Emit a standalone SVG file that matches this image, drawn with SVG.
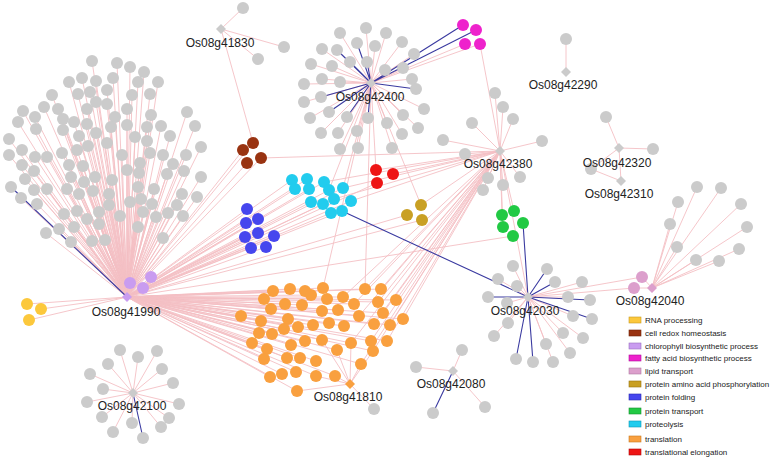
<svg xmlns="http://www.w3.org/2000/svg" width="773" height="459" viewBox="0 0 773 459">
<style>
.e{fill:none;stroke:#f4bfc4;stroke-width:0.9}
.b{fill:none;stroke:#3a3aa0;stroke-width:1.1}
.n circle{fill:#cbcbcb}
.g{fill:#cbcbcb}
.lbl{font-family:"Liberation Sans",Arial,sans-serif;font-size:12px;fill:#222;text-anchor:middle}
.lg{font-family:"Liberation Sans",Arial,sans-serif;font-size:8px;fill:#222}
.or circle{fill:#f9a03f}.cy circle{fill:#22ccee}.bl circle{fill:#4646ee}.gr circle{fill:#22c944}
.br circle{fill:#993311}.rd circle{fill:#ee1515}.gd circle{fill:#c9a024}.mg circle{fill:#ee22cc}
.pu circle{fill:#c99cf0}.ye circle{fill:#fcc83c}.pk circle{fill:#dc9fcc}
</style>
<rect width="773" height="459" fill="#fff"/>
<g id="connectors">
<path class="e" d="M127 297L92 61M127 297L117 63M127 297L130 67M127 297L144 72M127 297L158 82M127 297L69 82M127 297L82 78M127 297L96 81M127 297L113 78M127 297L138 82M127 297L52 95M127 297L78 94M127 297L90 92M127 297L107 90M127 297L132 95M127 297L150 94M127 297L44 107M127 297L58 109M127 297L96 102M127 297L107 104M127 297L127 109M127 297L23 111M127 297L35 117M127 297L63 119M127 297L87 109M127 297L115 117M127 297L151 115M127 297L187 112M127 297L18 122M127 297L36 129M127 297L63 130M127 297L74 122M127 297L87 124M127 297L111 127M127 297L127 125M127 297L147 127M127 297L161 126M127 297L195 126M127 297L9 139M127 297L79 136M127 297L96 133M127 297L135 137M127 297L147 141M127 297L170 136M127 297L107 143M127 297L88 146M127 297L201 147M127 297L22 150M127 297L9 155M127 297L35 157M127 297L47 157M127 297L62 153M127 297L77 150M127 297L122 155M127 297L150 153M127 297L163 155M127 297L186 155M127 297L22 165M127 297L34 171M127 297L69 165M127 297L83 166M127 297L127 170M127 297L140 163M127 297L139 173M127 297L173 164M127 297L167 174M127 297L184 171M127 297L25 179M127 297L71 177M127 297L95 177M127 297L112 180M127 297L138 187M127 297L154 189M127 297L201 177M127 297L34 190M127 297L47 189M127 297L67 189M127 297L84 182M127 297L93 191M127 297L109 194M127 297L79 194M127 297L141 199M127 297L130 202M127 297L152 204M127 297L182 194M127 297L197 197M127 297L21 198M127 297L37 204M127 297L109 205M127 297L77 211M127 297L99 212M127 297L120 216M127 297L143 212M127 297L156 217M127 297L168 213M127 297L177 205M127 297L183 216M127 297L64 214M127 297L87 219M127 297L74 227M127 297L99 224M127 297L138 227M127 297L59 229M127 297L163 238M127 297L46 233M127 297L71 242M127 297L92 241M127 297L105 240"/>
<path class="e" d="M127 297L130 283M127 297L151 277M127 297L143 288M127 297L27 304M127 297L41 309M127 297L29 320M127 297L243 150M127 297L253 143M127 297L261 158M127 297L247 163M127 297L247 209M127 297L258 219M127 297L246 223M127 297L258 233M127 297L245 237M127 297L274 236M127 297L251 248M127 297L266 247M127 297L292 180M127 297L307 179M127 297L295 189M127 297L309 189M127 297L324 182M127 297L329 190M127 297L343 188M127 297L311 202M127 297L323 204M127 297L334 199M127 297L351 201M127 297L331 213M127 297L342 211M127 297L377 183M127 297L407 215M127 297L422 220M127 297L513 236"/>
<path class="e" d="M127 297L273 291M127 297L290 289M127 297L305 291M127 297L311 295M127 297L323 288M127 297L264 299M127 297L285 304M127 297L302 305M127 297L327 299M127 297L343 297M127 297L354 304M127 297L365 289M127 297L381 289M127 297L378 302M127 297L396 300M127 297L271 309M127 297L322 311M127 297L338 310M127 297L359 316M127 297L383 313M127 297L403 319M127 297L241 316M127 297L261 321M127 297L288 319M127 297L298 327M127 297L313 325M127 297L329 323M127 297L344 326M127 297L374 324M127 297L390 325M127 297L259 333M127 297L272 334M127 297L284 329M127 297L305 341M127 297L322 340M127 297L351 343M127 297L371 341M127 297L387 341M127 297L252 343M127 297L267 349M127 297L291 345M127 297L337 350M127 297L373 351M127 297L264 359M127 297L287 358M127 297L300 358M127 297L316 361M127 297L361 364M127 297L270 377M127 297L282 374M127 297L296 372M127 297L316 376M127 297L335 376M127 297L297 391"/>
<path class="b" d="M127 297L11 187"/>
<path class="e" d="M500 151L495 93M500 151L503 107M500 151L513 119M500 151L472 123M500 151L443 140M500 151L465 154M500 151L542 141M500 151L488 178M500 151L483 190M500 151L503 185M500 151L520 177M500 151L480 44M500 151L261 158M500 151L343 188M500 151L351 201M500 151L324 182M500 151L334 199M500 151L393 174M500 151L376 170M500 151L502 215M500 151L514 211M500 151L503 227M500 151L421 205M500 151L528 297M500 151L365 289M500 151L381 289M500 151L378 302M500 151L396 300M500 151L383 313M500 151L403 319M500 151L374 324M500 151L390 325M500 151L371 341M500 151L387 341M500 151L373 351M500 151L359 316M500 151L354 304M500 151L343 297M500 151L361 364M500 151L351 343"/>
<path class="e" d="M371 83L366 28M371 83L340 33M371 83L386 33M371 83L375 46M371 83L402 42M371 83L322 49M371 83L414 54M371 83L311 64M371 83L332 66M371 83L385 70M371 83L403 68M371 83L412 79M371 83L304 84M371 83L322 79M371 83L340 82M371 83L304 102M371 83L424 109M371 83L310 118M371 83L387 123M371 83L403 115M371 83L418 128M371 83L321 133M371 83L338 133M371 83L357 131M371 83L402 134M371 83L340 149M371 83L358 148M371 83L392 148M371 83L465 44M371 83L480 44M371 83L329 190M371 83L343 188M371 83L421 205M371 83L365 289M371 83L323 288M371 83L376 170"/>
<path class="b" d="M371 83L337 50M371 83L357 43M371 83L350 62M371 83L367 62M371 83L416 89M371 83L321 97M371 83L329 112M371 83L347 117M371 83L368 118M371 83L463 25M371 83L476 30"/>
<path class="e" d="M528 297L513 266M528 297L498 279M528 297L517 286M528 297L507 303M528 297L582 282M528 297L568 297M528 297L573 316M528 297L508 323M528 297L494 336M528 297L563 333M528 297L583 338M528 297L546 344M528 297L570 353M528 297L553 362M528 297L634 288M528 297L642 277"/>
<path class="b" d="M528 297L488 297M528 297L547 269M528 297L555 282M528 297L590 300M528 297L592 319M528 297L516 359M528 297L533 362M528 297L342 211M528 297L523 223"/>
<path class="e" d="M652 288L697 187M652 288L721 188M652 288L678 202M652 288L741 204M652 288L670 224M652 288L747 227M652 288L677 247M652 288L739 249M652 288L696 260M652 288L719 261M652 288L642 277M652 288L634 288"/>
<path class="e" d="M350 384L335 376M350 384L316 376M350 384L361 364M350 384L337 350M350 384L351 343M350 384L322 340M350 384L297 391M350 384L373 351M350 384L374 409"/>
<path class="e" d="M133 393L120 350M133 393L157 351M133 393L138 357M133 393L108 364M133 393L162 369M133 393L90 374M133 393L173 383M133 393L103 389M133 393L87 402M133 393L179 404M133 393L102 417M133 393L169 418M133 393L132 423M133 393L161 427M133 393L113 432"/>
<path class="b" d="M133 393L143 438M453 371L433 413"/>
<path class="e" d="M453 371L416 367M453 371L462 350M453 371L485 407M221 29L243 8M221 29L284 47M221 29L258 59M221 29L253 143M566 72L566 39M619 148L606 117M619 148L653 149M619 148L591 169M619 148L621 181M621 181L591 169"/>
</g>
<g id="fan-Os08g41990" class="n">
<circle cx="92" cy="61" r="6"/><circle cx="117" cy="63" r="6"/><circle cx="130" cy="67" r="6"/><circle cx="144" cy="72" r="6"/><circle cx="158" cy="82" r="6"/><circle cx="69" cy="82" r="6"/><circle cx="82" cy="78" r="6"/><circle cx="96" cy="81" r="6"/><circle cx="113" cy="78" r="6"/><circle cx="138" cy="82" r="6"/><circle cx="52" cy="95" r="6"/><circle cx="78" cy="94" r="6"/><circle cx="90" cy="92" r="6"/><circle cx="107" cy="90" r="6"/><circle cx="132" cy="95" r="6"/><circle cx="150" cy="94" r="6"/><circle cx="44" cy="107" r="6"/><circle cx="58" cy="109" r="6"/><circle cx="96" cy="102" r="6"/><circle cx="107" cy="104" r="6"/><circle cx="127" cy="109" r="6"/><circle cx="23" cy="111" r="6"/><circle cx="35" cy="117" r="6"/><circle cx="63" cy="119" r="6"/><circle cx="87" cy="109" r="6"/><circle cx="115" cy="117" r="6"/><circle cx="151" cy="115" r="6"/><circle cx="187" cy="112" r="6"/><circle cx="18" cy="122" r="6"/><circle cx="36" cy="129" r="6"/><circle cx="63" cy="130" r="6"/><circle cx="74" cy="122" r="6"/><circle cx="87" cy="124" r="6"/><circle cx="111" cy="127" r="6"/><circle cx="127" cy="125" r="6"/><circle cx="147" cy="127" r="6"/><circle cx="161" cy="126" r="6"/><circle cx="195" cy="126" r="6"/><circle cx="9" cy="139" r="6"/><circle cx="79" cy="136" r="6"/><circle cx="96" cy="133" r="6"/><circle cx="135" cy="137" r="6"/><circle cx="147" cy="141" r="6"/><circle cx="170" cy="136" r="6"/><circle cx="107" cy="143" r="6"/><circle cx="88" cy="146" r="6"/><circle cx="201" cy="147" r="6"/><circle cx="22" cy="150" r="6"/><circle cx="9" cy="155" r="6"/><circle cx="35" cy="157" r="6"/><circle cx="47" cy="157" r="6"/><circle cx="62" cy="153" r="6"/><circle cx="77" cy="150" r="6"/><circle cx="122" cy="155" r="6"/><circle cx="150" cy="153" r="6"/><circle cx="163" cy="155" r="6"/><circle cx="186" cy="155" r="6"/><circle cx="22" cy="165" r="6"/><circle cx="34" cy="171" r="6"/><circle cx="69" cy="165" r="6"/><circle cx="83" cy="166" r="6"/><circle cx="127" cy="170" r="6"/><circle cx="140" cy="163" r="6"/><circle cx="139" cy="173" r="6"/><circle cx="173" cy="164" r="6"/><circle cx="167" cy="174" r="6"/><circle cx="184" cy="171" r="6"/><circle cx="25" cy="179" r="6"/><circle cx="71" cy="177" r="6"/><circle cx="95" cy="177" r="6"/><circle cx="112" cy="180" r="6"/><circle cx="138" cy="187" r="6"/><circle cx="154" cy="189" r="6"/><circle cx="201" cy="177" r="6"/><circle cx="11" cy="187" r="6"/><circle cx="34" cy="190" r="6"/><circle cx="47" cy="189" r="6"/><circle cx="67" cy="189" r="6"/><circle cx="84" cy="182" r="6"/><circle cx="93" cy="191" r="6"/><circle cx="109" cy="194" r="6"/><circle cx="79" cy="194" r="6"/><circle cx="141" cy="199" r="6"/><circle cx="130" cy="202" r="6"/><circle cx="152" cy="204" r="6"/><circle cx="182" cy="194" r="6"/><circle cx="197" cy="197" r="6"/><circle cx="21" cy="198" r="6"/><circle cx="37" cy="204" r="6"/><circle cx="109" cy="205" r="6"/><circle cx="77" cy="211" r="6"/><circle cx="99" cy="212" r="6"/><circle cx="120" cy="216" r="6"/><circle cx="143" cy="212" r="6"/><circle cx="156" cy="217" r="6"/><circle cx="168" cy="213" r="6"/><circle cx="177" cy="205" r="6"/><circle cx="183" cy="216" r="6"/><circle cx="64" cy="214" r="6"/><circle cx="87" cy="219" r="6"/><circle cx="74" cy="227" r="6"/><circle cx="99" cy="224" r="6"/><circle cx="138" cy="227" r="6"/><circle cx="59" cy="229" r="6"/><circle cx="163" cy="238" r="6"/><circle cx="46" cy="233" r="6"/><circle cx="71" cy="242" r="6"/><circle cx="92" cy="241" r="6"/><circle cx="105" cy="240" r="6"/>
</g>
<g id="grey-Os08g42400" class="n">
<circle cx="366" cy="28" r="6"/><circle cx="340" cy="33" r="6"/><circle cx="386" cy="33" r="6"/><circle cx="357" cy="43" r="6"/><circle cx="375" cy="46" r="6"/><circle cx="402" cy="42" r="6"/><circle cx="322" cy="49" r="6"/><circle cx="337" cy="50" r="6"/><circle cx="414" cy="54" r="6"/><circle cx="311" cy="64" r="6"/><circle cx="332" cy="66" r="6"/><circle cx="350" cy="62" r="6"/><circle cx="367" cy="62" r="6"/><circle cx="385" cy="70" r="6"/><circle cx="403" cy="68" r="6"/><circle cx="412" cy="79" r="6"/><circle cx="304" cy="84" r="6"/><circle cx="322" cy="79" r="6"/><circle cx="340" cy="82" r="6"/><circle cx="416" cy="89" r="6"/><circle cx="304" cy="102" r="6"/><circle cx="321" cy="97" r="6"/><circle cx="424" cy="109" r="6"/><circle cx="310" cy="118" r="6"/><circle cx="329" cy="112" r="6"/><circle cx="347" cy="117" r="6"/><circle cx="368" cy="118" r="6"/><circle cx="387" cy="123" r="6"/><circle cx="403" cy="115" r="6"/><circle cx="418" cy="128" r="6"/><circle cx="321" cy="133" r="6"/><circle cx="338" cy="133" r="6"/><circle cx="357" cy="131" r="6"/><circle cx="402" cy="134" r="6"/><circle cx="340" cy="149" r="6"/><circle cx="358" cy="148" r="6"/><circle cx="392" cy="148" r="6"/>
</g>
<g id="grey-Os08g42380" class="n">
<circle cx="495" cy="93" r="6"/><circle cx="503" cy="107" r="6"/><circle cx="513" cy="119" r="6"/><circle cx="472" cy="123" r="6"/><circle cx="443" cy="140" r="6"/><circle cx="465" cy="154" r="6"/><circle cx="542" cy="141" r="6"/><circle cx="488" cy="178" r="6"/><circle cx="483" cy="190" r="6"/><circle cx="503" cy="185" r="6"/><circle cx="520" cy="177" r="6"/>
</g>
<g id="grey-Os08g42030" class="n">
<circle cx="513" cy="266" r="6"/><circle cx="498" cy="279" r="6"/><circle cx="517" cy="286" r="6"/><circle cx="488" cy="297" r="6"/><circle cx="507" cy="303" r="6"/><circle cx="547" cy="269" r="6"/><circle cx="555" cy="282" r="6"/><circle cx="582" cy="282" r="6"/><circle cx="568" cy="297" r="6"/><circle cx="590" cy="300" r="6"/><circle cx="573" cy="316" r="6"/><circle cx="592" cy="319" r="6"/><circle cx="508" cy="323" r="6"/><circle cx="494" cy="336" r="6"/><circle cx="563" cy="333" r="6"/><circle cx="583" cy="338" r="6"/><circle cx="546" cy="344" r="6"/><circle cx="570" cy="353" r="6"/><circle cx="516" cy="359" r="6"/><circle cx="533" cy="362" r="6"/><circle cx="553" cy="362" r="6"/>
</g>
<g id="grey-Os08g42040" class="n">
<circle cx="697" cy="187" r="6"/><circle cx="721" cy="188" r="6"/><circle cx="678" cy="202" r="6"/><circle cx="741" cy="204" r="6"/><circle cx="670" cy="224" r="6"/><circle cx="747" cy="227" r="6"/><circle cx="677" cy="247" r="6"/><circle cx="739" cy="249" r="6"/><circle cx="696" cy="260" r="6"/><circle cx="719" cy="261" r="6"/>
</g>
<g id="grey-Os08g42100" class="n">
<circle cx="120" cy="350" r="6"/><circle cx="157" cy="351" r="6"/><circle cx="138" cy="357" r="6"/><circle cx="108" cy="364" r="6"/><circle cx="162" cy="369" r="6"/><circle cx="90" cy="374" r="6"/><circle cx="173" cy="383" r="6"/><circle cx="103" cy="389" r="6"/><circle cx="87" cy="402" r="6"/><circle cx="179" cy="404" r="6"/><circle cx="102" cy="417" r="6"/><circle cx="169" cy="418" r="6"/><circle cx="132" cy="423" r="6"/><circle cx="161" cy="427" r="6"/><circle cx="113" cy="432" r="6"/><circle cx="143" cy="438" r="6"/>
</g>
<g id="grey-small" class="n">
<circle cx="416" cy="367" r="6"/><circle cx="462" cy="350" r="6"/><circle cx="433" cy="413" r="6"/><circle cx="485" cy="407" r="6"/><circle cx="374" cy="409" r="6"/>
<circle cx="243" cy="8" r="6"/><circle cx="284" cy="47" r="6"/><circle cx="258" cy="59" r="6"/>
<circle cx="566" cy="39" r="6"/><circle cx="606" cy="117" r="6"/><circle cx="653" cy="149" r="6"/><circle cx="591" cy="169" r="6"/>
</g>
<g id="translation" class="or">
<circle cx="273" cy="291" r="6"/><circle cx="290" cy="289" r="6"/><circle cx="305" cy="291" r="6"/><circle cx="311" cy="295" r="6"/><circle cx="323" cy="288" r="6"/><circle cx="264" cy="299" r="6"/><circle cx="285" cy="304" r="6"/><circle cx="302" cy="305" r="6"/><circle cx="327" cy="299" r="6"/><circle cx="343" cy="297" r="6"/><circle cx="354" cy="304" r="6"/><circle cx="365" cy="289" r="6"/><circle cx="381" cy="289" r="6"/><circle cx="378" cy="302" r="6"/><circle cx="396" cy="300" r="6"/><circle cx="271" cy="309" r="6"/><circle cx="322" cy="311" r="6"/><circle cx="338" cy="310" r="6"/><circle cx="359" cy="316" r="6"/><circle cx="383" cy="313" r="6"/><circle cx="403" cy="319" r="6"/><circle cx="241" cy="316" r="6"/><circle cx="261" cy="321" r="6"/><circle cx="288" cy="319" r="6"/><circle cx="298" cy="327" r="6"/><circle cx="313" cy="325" r="6"/><circle cx="329" cy="323" r="6"/><circle cx="344" cy="326" r="6"/><circle cx="374" cy="324" r="6"/><circle cx="390" cy="325" r="6"/><circle cx="259" cy="333" r="6"/><circle cx="272" cy="334" r="6"/><circle cx="284" cy="329" r="6"/><circle cx="305" cy="341" r="6"/><circle cx="322" cy="340" r="6"/><circle cx="351" cy="343" r="6"/><circle cx="371" cy="341" r="6"/><circle cx="387" cy="341" r="6"/><circle cx="252" cy="343" r="6"/><circle cx="267" cy="349" r="6"/><circle cx="291" cy="345" r="6"/><circle cx="337" cy="350" r="6"/><circle cx="373" cy="351" r="6"/><circle cx="264" cy="359" r="6"/><circle cx="287" cy="358" r="6"/><circle cx="300" cy="358" r="6"/><circle cx="316" cy="361" r="6"/><circle cx="361" cy="364" r="6"/><circle cx="270" cy="377" r="6"/><circle cx="282" cy="374" r="6"/><circle cx="296" cy="372" r="6"/><circle cx="316" cy="376" r="6"/><circle cx="335" cy="376" r="6"/><circle cx="297" cy="391" r="6"/>
</g>
<g id="proteolysis" class="cy">
<circle cx="292" cy="180" r="6"/><circle cx="307" cy="179" r="6"/><circle cx="295" cy="189" r="6"/><circle cx="309" cy="189" r="6"/><circle cx="324" cy="182" r="6"/><circle cx="329" cy="190" r="6"/><circle cx="343" cy="188" r="6"/><circle cx="311" cy="202" r="6"/><circle cx="323" cy="204" r="6"/><circle cx="334" cy="199" r="6"/><circle cx="351" cy="201" r="6"/><circle cx="331" cy="213" r="6"/><circle cx="342" cy="211" r="6"/>
</g>
<g id="protein-folding" class="bl">
<circle cx="247" cy="209" r="6"/><circle cx="258" cy="219" r="6"/><circle cx="246" cy="223" r="6"/><circle cx="258" cy="233" r="6"/><circle cx="245" cy="237" r="6"/><circle cx="274" cy="236" r="6"/><circle cx="251" cy="248" r="6"/><circle cx="266" cy="247" r="6"/>
</g>
<g id="cell-redox" class="br">
<circle cx="243" cy="150" r="6"/><circle cx="253" cy="143" r="6"/><circle cx="261" cy="158" r="6"/><circle cx="247" cy="163" r="6"/>
</g>
<g id="translational-elongation" class="rd">
<circle cx="376" cy="170" r="6"/><circle cx="393" cy="174" r="6"/><circle cx="377" cy="183" r="6"/>
</g>
<g id="phosphorylation" class="gd">
<circle cx="421" cy="205" r="6"/><circle cx="407" cy="215" r="6"/><circle cx="422" cy="220" r="6"/>
</g>
<g id="protein-transport" class="gr">
<circle cx="502" cy="215" r="6"/><circle cx="514" cy="211" r="6"/><circle cx="503" cy="227" r="6"/><circle cx="523" cy="223" r="6"/><circle cx="513" cy="236" r="6"/>
</g>
<g id="fatty-acid" class="mg">
<circle cx="463" cy="25" r="6"/><circle cx="476" cy="30" r="6"/><circle cx="465" cy="44" r="6"/><circle cx="480" cy="44" r="6"/>
</g>
<g id="chlorophyll" class="pu">
<circle cx="130" cy="283" r="6"/><circle cx="151" cy="277" r="6"/><circle cx="143" cy="288" r="6"/>
</g>
<g id="rna-processing" class="ye">
<circle cx="27" cy="304" r="6"/><circle cx="41" cy="309" r="6"/><circle cx="29" cy="320" r="6"/>
</g>
<g id="lipid-transport" class="pk">
<circle cx="642" cy="277" r="6"/><circle cx="634" cy="288" r="6"/>
</g>
<g id="Os08g41990"><path d="M122 297L127 292L132 297L127 302Z" fill="#c99cf0"/><text class="lbl" x="126" y="316">Os08g41990</text></g>
<g id="Os08g41810"><path d="M345 384L350 379L355 384L350 389Z" fill="#f9a03f"/><text class="lbl" x="348" y="401">Os08g41810</text></g>
<g id="Os08g42040"><path d="M647 288L652 283L657 288L652 293Z" fill="#dc9fcc"/><text class="lbl" x="650" y="305">Os08g42040</text></g>
<g id="Os08g42400"><path d="M366 83L371 78L376 83L371 88Z" class="g"/><text class="lbl" x="370" y="101">Os08g42400</text></g>
<g id="Os08g42380"><path d="M495 151L500 146L505 151L500 156Z" class="g"/><text class="lbl" x="498" y="168">Os08g42380</text></g>
<g id="Os08g42030"><path d="M523 297L528 292L533 297L528 302Z" class="g"/><text class="lbl" x="525" y="315">Os08g42030</text></g>
<g id="Os08g42080"><path d="M448 371L453 366L458 371L453 376Z" class="g"/><text class="lbl" x="451" y="388">Os08g42080</text></g>
<g id="Os08g42100"><path d="M128 393L133 388L138 393L133 398Z" class="g"/><text class="lbl" x="132" y="410">Os08g42100</text></g>
<g id="Os08g41830"><path d="M216 29L221 24L226 29L221 34Z" class="g"/><text class="lbl" x="220" y="47">Os08g41830</text></g>
<g id="Os08g42290"><path d="M561 72L566 67L571 72L566 77Z" class="g"/><text class="lbl" x="563" y="89">Os08g42290</text></g>
<g id="Os08g42320"><path d="M614 148L619 143L624 148L619 153Z" class="g"/><text class="lbl" x="617" y="167">Os08g42320</text></g>
<g id="Os08g42310"><path d="M616 181L621 176L626 181L621 186Z" class="g"/><text class="lbl" x="619" y="198">Os08g42310</text></g>
<g id="legend">
<rect x="629" y="317" width="12" height="6" fill="#fcc83c" stroke="#c89a20" stroke-width="0.6"/><text class="lg" x="645" y="323">RNA processing</text>
<rect x="629" y="330" width="12" height="6" fill="#993311" stroke="#6e2208" stroke-width="0.6"/><text class="lg" x="645" y="336">cell redox homeostasis</text>
<rect x="629" y="343" width="12" height="6" fill="#c99cf0" stroke="#9a70c0" stroke-width="0.6"/><text class="lg" x="645" y="349">chlorophyll biosynthetic process</text>
<rect x="629" y="355" width="12" height="6" fill="#ee22cc" stroke="#b0109a" stroke-width="0.6"/><text class="lg" x="645" y="361">fatty acid biosynthetic process</text>
<rect x="629" y="368" width="12" height="6" fill="#dc9fcc" stroke="#b07aa0" stroke-width="0.6"/><text class="lg" x="645" y="374">lipid transport</text>
<rect x="629" y="381" width="12" height="6" fill="#c9a024" stroke="#967410" stroke-width="0.6"/><text class="lg" x="645" y="387">protein amino acid phosphorylation</text>
<rect x="629" y="394" width="12" height="6" fill="#4646ee" stroke="#2a2ab0" stroke-width="0.6"/><text class="lg" x="645" y="400">protein folding</text>
<rect x="629" y="408" width="12" height="6" fill="#22c944" stroke="#149030" stroke-width="0.6"/><text class="lg" x="645" y="414">protein transport</text>
<rect x="629" y="421" width="12" height="6" fill="#22ccee" stroke="#1098b4" stroke-width="0.6"/><text class="lg" x="645" y="427">proteolysis</text>
<rect x="629" y="436" width="12" height="6" fill="#f9a03f" stroke="#c87820" stroke-width="0.6"/><text class="lg" x="645" y="442">translation</text>
<rect x="629" y="449" width="12" height="6" fill="#ee1515" stroke="#b00808" stroke-width="0.6"/><text class="lg" x="645" y="455">translational elongation</text>
</g>
</svg>
